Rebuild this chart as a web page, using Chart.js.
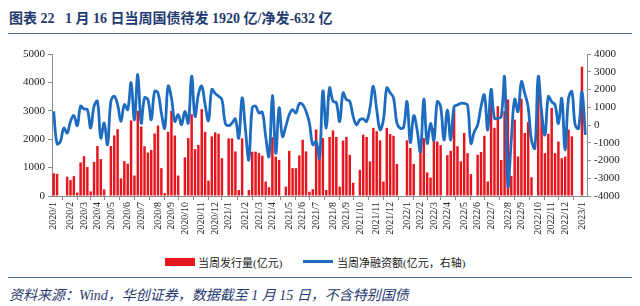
<!DOCTYPE html>
<html><head><meta charset="utf-8">
<script src="https://cdn.jsdelivr.net/npm/chart.js@4.4.0/dist/chart.umd.min.js"></script>
<style>
html,body{margin:0;padding:0;background:#fff;width:640px;height:306px;overflow:hidden;}
#title{position:absolute;left:9px;top:7px;font:bold 14px "Liberation Serif","Noto Sans CJK SC";color:#1F3A70;white-space:pre;}
.rule{position:absolute;left:8px;width:624px;height:1px;background:#4F6F9C;}
#wrap{position:absolute;left:0;top:0;width:640px;height:250px;}
.lg{position:absolute;font:11px "Liberation Serif","Noto Sans CJK SC";color:#222;white-space:pre;top:254px;}
#box{position:absolute;left:165px;top:258px;width:30px;height:8px;background:#E5161E;}
#ln{position:absolute;left:303px;top:260px;width:30px;height:3px;background:#1E6CC0;}
#source{position:absolute;left:9px;top:284px;font:italic 14px "Liberation Serif","Noto Sans CJK SC";color:#1F3A70;white-space:pre;}
</style></head>
<body>
<div id="title">图表 22   1 月 16 日当周国债待发 1920 亿/净发-632 亿</div>
<div class="rule" style="top:33px"></div>
<div id="wrap"><canvas id="c" width="640" height="250"></canvas></div>
<div id="box"></div><div class="lg" style="left:198px">当周发行量(亿元)</div>
<div id="ln"></div><div class="lg" style="left:337px">当周净融资额(亿元，右轴)</div>
<div class="rule" style="top:277px"></div>
<div id="source">资料来源：Wind，华创证券，数据截至 1 月 15 日，不含特别国债</div>
<script>
// weekly categories (first week ending 2020-01-03 through 2023-01-13)
const firstWeek = '2020-01-03';
const weekCount = 159;
const weeks = [];
{ const d0 = new Date(firstWeek + 'T00:00:00Z');
  for (let i = 0; i < weekCount; i++) { const d = new Date(d0.getTime() + i*7*86400000); weeks.push(d.toISOString().slice(0,10)); } }

// 当周发行量(亿元)
const issuance = [
 800,780,0,0,680,560,700,120,1180,1400,1020,160,1200,1760,1300,230,0,1760,2130,2350,
 620,1230,1140,2660,720,3000,2450,1750,1530,1620,2200,2480,980,100,2260,3000,2130,720,0,1360,
 2040,2880,1650,1800,3060,2260,540,2100,2240,2190,1330,0,2030,2030,1570,210,2030,0,210,1560,
 1560,1510,1420,510,310,2070,1390,1270,0,330,1590,980,980,1430,1980,1570,150,240,2340,1650,
 2040,210,2080,2310,2080,330,1950,2080,1450,470,0,920,2160,2080,1220,2400,2280,1960,510,2400,
 2180,2120,1130,0,0,1960,1690,1130,0,1570,2040,830,650,2400,1920,1790,0,1440,1590,3040,
 1750,1220,2220,1510,770,0,1450,1550,2120,510,3400,2400,3160,1270,2990,3400,710,2690,1390,3420,
 2220,2600,660,0,3580,3040,1510,2190,3100,1510,1920,1330,1390,2340,2100,0,0,4550,null
];
// 当周净融资额(亿元，右轴)
const netFinancing = [
 770,-1060,-920,-170,-450,200,530,-40,1060,900,870,-170,1060,1340,-740,110,-1110,1340,1620,1150,
 200,1150,870,2380,300,2850,110,1530,1430,300,1900,1810,680,-170,2190,1530,200,580,20,770,
 110,2750,490,1720,2190,1150,250,2000,1780,1620,1430,100,-40,110,340,-740,1530,-260,-1960,960,
 1060,680,720,-640,-1770,1660,-1590,960,-640,-75,580,870,680,1210,1150,770,110,-1110,-920,-1870,
 1910,-170,2090,1340,1250,200,1810,1430,1340,490,20,300,340,200,960,2190,870,-260,300,2090,
 1810,1530,110,-180,-130,1320,-980,520,-250,-1500,1450,-1030,90,-850,1310,1030,-850,850,-850,1030,
 1130,1220,1220,1130,-1030,-380,0,1030,1690,-280,2010,380,380,470,2690,-3440,-850,1450,750,2440,
 1780,1030,-850,-1310,2720,750,-560,1600,1310,1130,90,1500,-1410,1500,1880,0,-190,1880,-560
];
// axis ranges / ticks
const leftTicks = {min:0, max:5000, step:500};
const rightTicks = {min:-4000, max:4000, step:1000};

function monthTick(i){
  const cur = weeks[i];
  if (i === 0 || weeks[i-1].slice(5,7) !== cur.slice(5,7)) {
    return cur.slice(0,4) + '/' + parseInt(cur.slice(5,7),10);
  }
  return null;
}

const axisColor = '#8C8C8C';
const tickFont = {family:'Liberation Serif', size:11};
new Chart(document.getElementById('c'), {
  data: {
    labels: weeks,
    datasets: [
      {type:'line', label:'当周净融资额(亿元，右轴)', data: netFinancing, yAxisID:'y1',
       borderColor:'#1E6CC0', borderWidth:2.8, tension:0.4, pointRadius:0, order:0, fill:false},
      {type:'bar', label:'当周发行量(亿元)', data: issuance, yAxisID:'y',
       backgroundColor:'#E5161E', borderWidth:0, barPercentage:0.74, categoryPercentage:1, order:1}
    ]
  },
  options: {
    responsive:false, animation:false, devicePixelRatio:1,
    layout:{padding:{top:54, left:0, right:0, bottom:0}},
    plugins:{legend:{display:false}, tooltip:{enabled:false}},
    scales:{
      x:{type:'category', offset:true,
         grid:{display:true, drawOnChartArea:false, drawTicks:true, tickLength:4, color:axisColor, offset:true},
         border:{display:true, color:axisColor},
         ticks:{autoSkip:false, minRotation:90, maxRotation:90, padding:2, color:'#222',
                font:{family:'Liberation Serif', size:10},
                callback:function(v,i){ return monthTick(i); }},
         afterFit:function(s){ s.height = 54; }},
      y:{position:'left', min:leftTicks.min, max:leftTicks.max,
         grid:{drawOnChartArea:false, drawTicks:true, tickLength:4, color:axisColor},
         border:{display:true, color:axisColor},
         ticks:{stepSize:leftTicks.step, color:'#222', font:tickFont, padding:3,
                callback:function(v){ return String(v); }},
         afterFit:function(s){ s.width = 52; }},
      y1:{position:'right', min:rightTicks.min, max:rightTicks.max,
         grid:{drawOnChartArea:false, drawTicks:true, tickLength:4, color:axisColor},
         border:{display:true, color:axisColor},
         ticks:{stepSize:rightTicks.step, color:'#222', font:tickFont, padding:3,
                callback:function(v){ return String(v); }},
         afterFit:function(s){ s.width = 53; }}
    }
  }
});
</script>
</body></html>
